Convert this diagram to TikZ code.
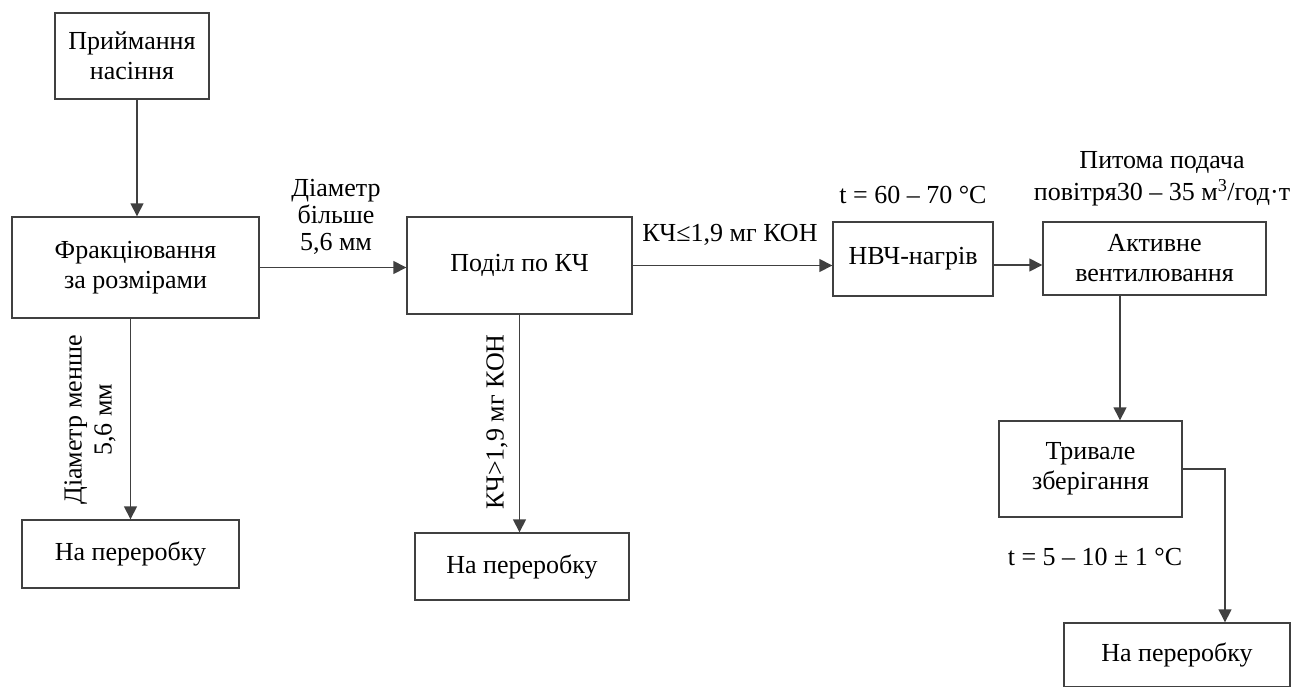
\documentclass[tikz,border=0pt]{standalone}
\usepackage{fontspec}
\setmainfont{Liberation Serif}
\usetikzlibrary{arrows.meta}

\begin{document}
\begin{tikzpicture}[
        x=1pt, y=-1pt,
        every node/.style={font=\rmfamily\fontsize{26}{30}\selectfont},
        box/.style={rectangle, draw=black!75, line width=1.4pt, align=center, inner sep=0pt},
        lbl/.style={align=center, inner sep=0pt},
        arrow/.style={draw=black!75, line width=1.5pt, -{Triangle[length=13pt,width=13pt]}}
    ]
        \useasboundingbox (0,0) rectangle (1295,686);

        % boxes
        \node (receive) [box, minimum width=154pt, minimum height=86pt] at (132,56) {Приймання\\насіння};
        \node (fraction) [box, minimum width=247pt, minimum height=101pt] at (135.5,267.5) {Фракціювання\\за розмірами};
        \node (split) [box, minimum width=225pt, minimum height=97pt] at (519.5,265.5) {Поділ по КЧ};
        \node (heat) [box, minimum width=160pt, minimum height=74pt] at (913,259) {НВЧ-нагрів};
        \node (vent) [box, minimum width=223pt, minimum height=73pt] at (1154.5,258.5) {Активне\\вентилювання};
        \node (store) [box, minimum width=183pt, minimum height=96pt] at (1090.5,469) {Тривале\\зберігання};
        \node (waste1) [box, minimum width=217pt, minimum height=68pt] at (130.5,554) {На переробку};
        \node (waste2) [box, minimum width=214pt, minimum height=67pt] at (522,566.5) {На переробку};
        \node (waste3) [box, minimum width=226pt, minimum height=64pt] at (1177,655) {На переробку};

        % labels
        \node (bigger) [lbl, font=\rmfamily\fontsize{26}{27}\selectfont] at (336,217) {Діаметр\\більше\\5,6 мм};
        \node (lowkch) [lbl] at (730,235) {КЧ≤1,9 мг КОН};
        \node (heatt) [lbl] at (913,195) {t = 60 – 70 °C};
        \node (airflow) [lbl, font=\rmfamily\fontsize{26}{32}\selectfont] at (1162,179) {Питома подача\\повітря30 – 35 м\textsuperscript{3}/год·т};
        \node (smaller) [lbl, rotate=90, font=\rmfamily\fontsize{26}{30}\selectfont] at (90,420) {Діаметр менше\\5,6 мм};
        \node (highkch) [lbl, rotate=90] at (497,422) {КЧ>1,9 мг КОН};
        \node (storet) [lbl] at (1095,557) {t = 5 – 10 ± 1 °C};

        % connectors
        \draw[arrow] ([xshift=5pt]receive.south) -- ([xshift=5pt]receive.south |- fraction.north);
        \draw[arrow] (fraction.east) -- (fraction.east -| split.west);
        \draw[arrow] (split.east) -- (split.east -| heat.west);
        \draw[arrow] ([yshift=-6pt]heat.east) -- ([yshift=-6pt]heat.east -| vent.west);
        \draw[arrow] (waste1.north |- fraction.south) -- (waste1.north);
        \draw[arrow] (split.south) -- (split.south |- waste2.north);
        \draw[arrow] ([xshift=-34.5pt]vent.south) -- ([xshift=-34.5pt]vent.south |- store.north);
        \draw[arrow] (store.east) -| ([xshift=48pt]waste3.north);
    \end{tikzpicture}
\end{document}
